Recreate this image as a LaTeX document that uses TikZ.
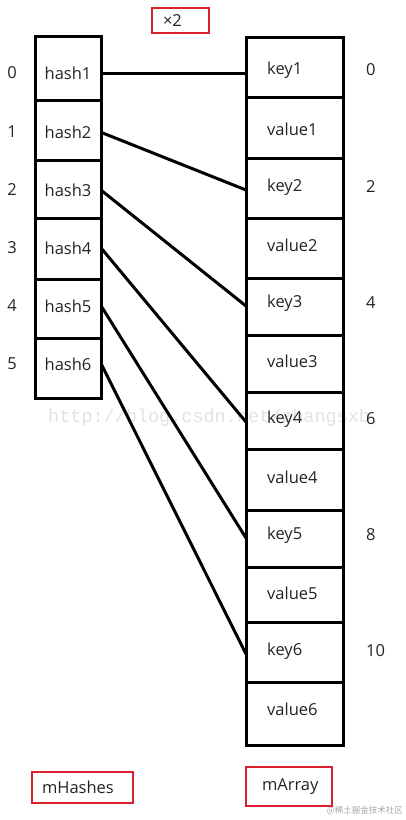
\documentclass[tikz,border=0pt]{standalone}
\usepackage{fontspec}
\setmainfont{Open Sans}
\newfontfamily\wmfont{Liberation Mono}
\newfontfamily\cjkfont{Noto Sans CJK SC}
\definecolor{redbox}{RGB}{220,32,44}
\definecolor{txt}{RGB}{35,35,35}
\definecolor{wm}{RGB}{226,226,226}
\begin{document}
\begin{tikzpicture}[x=1pt,y=-1pt,
  cell/.style={draw=black, line width=3pt, inner sep=0pt, outer sep=0pt},
  lbl/.style={font=\fontsize{16.5}{19}\selectfont, text=txt, inner sep=0pt},
  redlbl/.style={draw=redbox, line width=2pt, inner ysep=0pt, align=left, outer sep=0pt,
    font=\fontsize{16.5}{19}\selectfont, text=txt},
  link/.style={line width=3pt, draw=black}]
\useasboundingbox (0,0) rectangle (405,820);
% watermark
\node[font=\wmfont\fontsize{18.5}{20}\selectfont, text=wm, anchor=west, inner sep=0pt] (wmurl) at (48,418) {http://blog.csdn.net/zhangsxb};
% left cells
\foreach \t/\b/\n/\ty [count=\i] in {36/100/hash1/73,100/160/hash2/132,160/218/hash3/190,218/279/hash4/248,279/338/hash5/306,338/398/hash6/364}{
  \node[cell, minimum width=66pt, minimum height={(\b-\t)*1pt}] (h\i) at (68,{(\t+\b)/2}) {};
  \node[lbl] (ht\i) at (68,\ty) {\n};
  \pgfmathtruncatemacro{\idx}{\i-1}
  \node[lbl] (hi\i) at (12,\ty) {\idx};
  \coordinate (hs\i) at (101.5,\ty+0.5);
}
% right cells
\foreach \t/\b/\n/\ty [count=\i] in {37/97/key1/70,97/158/value1/129,158/218/key2/187,218/278/value2/245,278/335/key3/303,335/392/value3/361,392/449/key4/419,449/510/value4/477,510/567/key5/535,567/622/value5/593,622/682/key6/651,682/745/value6/709}{
  \node[cell, minimum width=97pt, minimum height={(\b-\t)*1pt}] (r\i) at (294.5,{(\t+\b)/2}) {};
  \node[lbl, anchor=west] (rt\i) at (267,\ty) {\n};
  \coordinate (re\i) at (246,\ty+3);
}
\foreach \i in {1,3,5,7,9,11}{
  \pgfmathtruncatemacro{\idx}{\i-1}
  \node[lbl, anchor=west] (ri\i) at (366,{0} |- rt\i) {\idx};
}
% connectors
\coordinate (hs1) at (101.5,73.5);
\coordinate (re1) at (246,73.5);
\foreach \i/\k in {1/1,2/3,3/5,4/7,5/9,6/11}{
  \draw[link] (hs\i) -- (re\k);
}
% red labels
\node[redlbl, inner xsep=11pt, text width=35pt, minimum height=25pt] (x2) at (180.5,20.5) {×2};
\node[redlbl, inner xsep=10pt, text width=81pt, minimum height=31pt] (mh) at (82.5,787.5) {mHashes};
\node[redlbl, inner xsep=16pt, text width=54pt, minimum height=39pt] (ma) at (289,786.5) {mArray};
\node[font=\cjkfont\fontsize{8.5}{10}\selectfont, text=gray!70, anchor=east, inner sep=0pt] (wmj) at (403,811) {@稀土掘金技术社区};
\end{tikzpicture}
\end{document}
